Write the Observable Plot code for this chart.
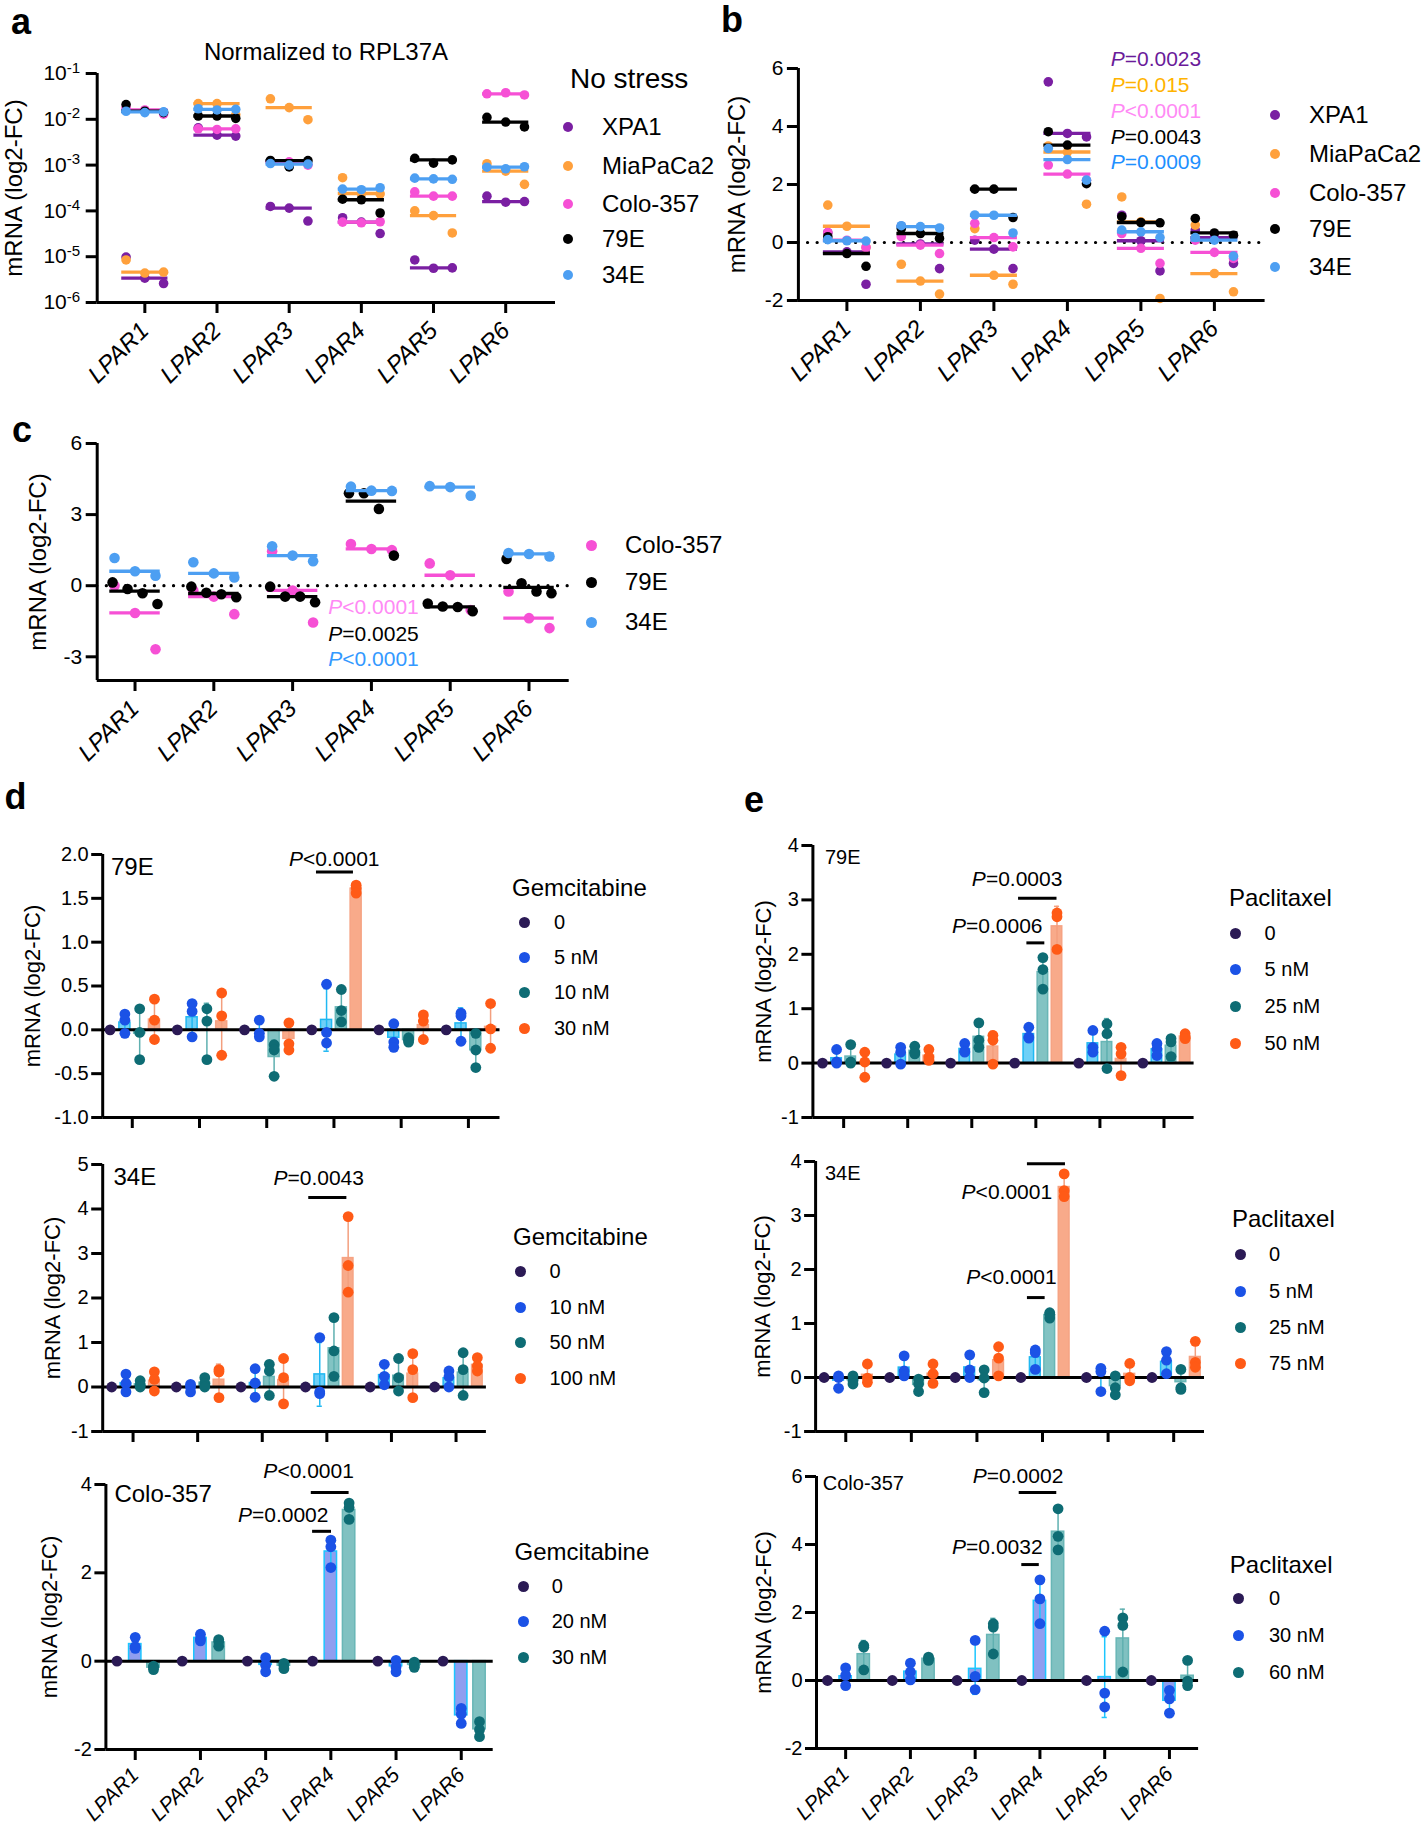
<!DOCTYPE html>
<html><head><meta charset="utf-8">
<script src="https://cdn.jsdelivr.net/npm/d3@7"></script>
<script src="https://cdn.jsdelivr.net/npm/@observablehq/plot@0.6"></script>
<style>
html,body{margin:0;padding:0;background:#fff;}
#page{position:relative;width:1421px;height:1830px;overflow:hidden;font-family:'Liberation Sans',Arial,Helvetica,sans-serif;color:#000;}
.t{position:absolute;white-space:nowrap;line-height:1;}
.dot{position:absolute;border-radius:50%;}
.plot{position:absolute;}
.plot svg{overflow:visible;}
</style></head><body><div id="page"></div>
<script>
// ---------------- DATA ----------------
const genes = ["LPAR1", "LPAR2", "LPAR3", "LPAR4", "LPAR5", "LPAR6"];
const geneIdx = [0, 1, 2, 3, 4, 5];

// Panel a: no stress, normalized to RPL37A (3 replicates per gene)
const aLines = ["XPA1", "MiaPaCa2", "Colo-357", "79E", "34E"];
const aXPA1 = [[9.8e-6, 3.4e-6, 2.6e-6], [6.5e-3, 4.5e-3, 4.3e-3], [1.25e-4, 1.15e-4, 6e-5], [7.1e-5, 5.7e-5, 3.2e-5], [8.5e-6, 5.6e-6, 5.7e-6], [2.1e-4, 1.55e-4, 1.6e-4]];
const aMiaPaCa2 = [[8.5e-6, 4.4e-6, 4.6e-6], [0.022, 0.022, 0.0125], [0.028, 0.018, 0.0098], [5.3e-4, 2.4e-4, 2.35e-4], [1.0e-4, 7.9e-5, 3.3e-5], [1.07e-3, 7.4e-4, 3.8e-4]];
const aColo357 = [[0.018, 0.016, 0.013], [0.0062, 0.006, 0.0062], [0.0012, 0.00118, 0.001], [5.7e-5, 5.5e-5, 5.8e-5], [2.6e-4, 2.1e-4, 2.1e-4], [0.036, 0.038, 0.034]];
const a79E = [[0.021, 0.015, 0.014], [0.0118, 0.0118, 0.0105], [0.00126, 0.00091, 0.00125], [1.8e-4, 1.75e-4, 9e-5], [1.4e-3, 1.1e-3, 1.3e-3], [0.011, 0.0087, 0.0068]];
const a34E = [[0.015, 0.014, 0.0145], [0.017, 0.016, 0.0165], [0.00108, 0.001, 0.00105], [3.0e-4, 2.9e-4, 3.2e-4], [5.2e-4, 5e-4, 4.9e-4], [9e-4, 8.3e-4, 9.2e-4]];
const aTicks = [1e-6, 1e-5, 1e-4, 1e-3, 1e-2, 1e-1];

// Panel b: log2-FC, 5 cell lines
const bXPA1 = [[0.34, -0.32, -1.44], [0.56, -0.05, -0.9], [0.08, -0.23, -0.9], [5.54, 3.76, 3.64], [0.94, 0.06, -0.98], [0.43, 0.17, -0.72]];
const bMiaPaCa2 = [[1.29, 0.56, -0.17], [-0.75, -1.33, -1.78], [0.48, -1.13, -1.44], [3.33, 3.12, 1.32], [1.57, 0.71, -1.93], [0.6, -1.07, -1.7]];
const bColo357 = [[0.34, 0.08, -0.17], [0.2, -0.09, -0.38], [0.66, 0.17, -0.15], [2.67, 2.36, 2.15], [0.31, -0.2, -0.72], [0.08, -0.34, -0.55]];
const b79E = [[0.2, -0.38, -0.82], [0.48, 0.31, 0.14], [1.84, 1.84, 0.86], [3.82, 3.36, 2.03], [0.89, 0.69, 0.68], [0.83, 0.33, 0.25]];
const b34E = [[0.1, 0.06, 0.05], [0.58, 0.55, 0.5], [0.95, 0.94, 0.33], [3.24, 2.86, 2.15], [0.43, 0.37, 0.17], [0.17, 0.08, -0.47]];
const bTicks = [-2, 0, 2, 4, 6];
const bPValues = ["=0.0023", "=0.015", "<0.0001", "=0.0043", "=0.0009"];

// Panel c: log2-FC, 3 cell lines
const cLines = ["Colo-357", "79E", "34E"];
const cColo357 = [[0.0, -1.15, -2.68], [-0.2, -0.46, -1.2], [1.45, -0.2, -1.55], [1.76, 1.55, 1.5], [0.94, 0.44, -1.03], [-0.24, -1.37, -1.79]];
const c79E = [[0.14, -0.14, -0.32, -0.77], [-0.04, -0.3, -0.36, -0.49], [-0.04, -0.46, -0.46, -0.7], [3.9, 3.9, 3.24, 1.27], [-0.75, -0.88, -0.9, -1.08], [1.13, 0.1, -0.24, -0.32]];
const c34E = [[1.17, 0.61, 0.42], [0.99, 0.52, 0.35], [1.66, 1.27, 1.03], [4.18, 4.01, 4.0], [4.2, 4.16, 3.8], [1.38, 1.34, 1.23]];
const cTicks = [-3, 0, 3, 6];
const cPValues = ["<0.0001", "=0.0025", "<0.0001"];

// untreated control (normalized to 0)
const untreated = [0, 0, 0, 0, 0, 0];

// Panel d: Gemcitabine
const d79Doses = ["0", "5 nM", "10 nM", "30 nM"];
const d79_5 = [[0.18, 0.11, -0.04], [0.3, 0.21, -0.08], [0.11, -0.04, -0.08], [0.52, -0.03, -0.15], [0.07, -0.14, -0.2], [0.19, 0.16, -0.13]];
const d79_10 = [[0.24, -0.03, -0.34], [0.24, 0.1, -0.34], [-0.17, -0.23, -0.53], [0.46, 0.22, 0.09], [-0.09, -0.12, -0.14], [-0.04, -0.23, -0.43]];
const d79_30 = [[0.35, 0.11, -0.11], [0.42, 0.16, -0.29], [0.08, -0.16, -0.23], [1.65, 1.62, 1.56], [0.17, 0.1, -0.11], [0.3, 0.01, -0.21]];
const d34Doses = ["0", "10 nM", "50 nM", "100 nM"];
const d34_10 = [[0.29, 0.08, -0.11], [0.06, 0, -0.11], [0.41, 0.09, -0.23], [1.11, -0.11, -0.15], [0.51, 0.24, 0.05], [0.36, 0.23, 0]];
const d34_50 = [[0.14, 0.04, 0], [0.21, 0.08, 0], [0.51, 0.36, -0.19], [1.56, 0.81, 0.24], [0.64, 0.21, -0.09], [0.77, 0.39, -0.19]];
const d34_100 = [[0.34, 0.17, -0.09], [0.39, 0.34, -0.24], [0.64, 0.21, -0.38], [3.83, 2.73, 2.13], [0.75, 0.39, -0.24], [0.66, 0.47, 0.36]];
const dColoDoses = ["0", "20 nM", "30 nM"];
const dColo_20 = [[0.54, 0.33, 0.29], [0.61, 0.51, 0.46], [0.08, -0.09, -0.24], [2.74, 2.59, 2.12], [0.02, -0.13, -0.24], [-1.07, -1.2, -1.41]];
const dColo_30 = [[-0.11, -0.14, -0.19], [0.49, 0.44, 0.34], [-0.05, -0.09, -0.17], [3.58, 3.48, 3.21], [-0.02, -0.09, -0.14], [-1.37, -1.55, -1.71]];

// Panel e: Paclitaxel
const e79Doses = ["0", "5 nM", "25 nM", "50 nM"];
const e79_5 = [[0.25, 0.02, 0], [0.29, 0.2, -0.02], [0.36, 0.22, 0.2], [0.66, 0.48, 0.46], [0.6, 0.29, 0.2], [0.36, 0.26, 0.14]];
const e79_25 = [[0.34, 0.02, 0], [0.31, 0.2, 0.17], [0.74, 0.42, 0.29], [1.94, 1.72, 1.36], [0.72, 0.54, -0.1], [0.45, 0.39, 0.12]];
const e79_50 = [[0.2, 0.02, -0.26], [0.25, 0.11, 0.05], [0.51, 0.42, -0.02], [2.76, 2.69, 2.09], [0.29, 0.17, -0.23], [0.54, 0.48, 0.45]];
const e34Doses = ["0", "5 nM", "25 nM", "75 nM"];
const e34_5 = [[0.03, 0, -0.2], [0.4, 0.12, 0.03], [0.42, 0.14, 0], [0.51, 0.46, 0.15], [0.17, 0.11, -0.26], [0.48, 0.32, 0.07]];
const e34_25 = [[0.03, -0.06, -0.12], [-0.03, -0.12, -0.26], [0.14, -0.01, -0.28], [1.2, 1.17, 1.1], [0.03, -0.19, -0.32], [0.15, -0.19, -0.22]];
const e34_75 = [[0.25, -0.01, -0.09], [0.25, 0.07, -0.11], [0.57, 0.36, 0.03], [3.77, 3.46, 3.35], [0.26, 0, -0.06], [0.67, 0.28, 0.19]];
const eColoDoses = ["0", "30 nM", "60 nM"];
const eColo_30 = [[0.37, 0.15, -0.15], [0.51, 0.25, 0.02], [1.18, 0.12, -0.27], [2.96, 2.4, 1.67], [1.45, -0.37, -0.78], [-0.29, -0.54, -0.96]];
const eColo_60 = [[1.03, 0.98, 0.31], [0.69, 0.64, 0.59], [1.67, 1.57, 0.78], [5.05, 4.24, 3.84], [1.84, 1.62, 0.25], [0.59, -0.02, -0.15]];

// ---------------- STYLE ----------------
const FONT = "'Liberation Sans', Arial, Helvetica, sans-serif";
const lineColor = {"XPA1": "#7a1fa2", "MiaPaCa2": "#ffa03c", "Colo-357": "#f650d5", "79E": "#000000", "34E": "#4d9ff2"};
const doseDot = ["#2b1a55", "#1b52e6", "#0e6c74", "#ff5a16"];
const barStd = [null, {fill: "#6fd0f7", stroke: "#20b8f2", err: "#20b8f2"}, {fill: "#82c3c3", stroke: "#68b6b6", err: "#5fb0b0"}, {fill: "#f8aa8a", stroke: "#f6a383", err: "#f39f7e"}];
const barColo = [null, {fill: "#8f9ef0", stroke: "#1cc6ff", err: "#1cc6ff"}, {fill: "#80c1c1", stroke: "#68b6b6", err: "#5fb0b0"}];

const page = document.getElementById("page");

function label(txt, x, y, size, o = {}) {
  const el = document.createElement("div");
  el.className = "t";
  el.textContent = txt;
  el.style.left = x + "px";
  el.style.top = y + "px";
  el.style.fontSize = size + "px";
  if (o.bold) el.style.fontWeight = "bold";
  if (o.color) el.style.color = o.color;
  el.style.transform = o.center ? "translate(-50%,-50%)" : "translateY(-50%)";
  page.appendChild(el);
}
function legendDot(x, y, r, color) {
  const el = document.createElement("div");
  el.className = "dot";
  el.style.left = (x - r) + "px"; el.style.top = (y - r) + "px";
  el.style.width = 2 * r + "px"; el.style.height = 2 * r + "px";
  el.style.background = color;
  page.appendChild(el);
}
function legend(title, tx, ty, tsize, names, colors, dx, txx, rows, size, r) {
  if (title) label(title, tx, ty, tsize);
  names.forEach((n, i) => { legendDot(dx, rows[i], r, colors[i]); label(n, txx, rows[i], size); });
}

function finish(svg) {
  svg.querySelectorAll('g[aria-label="x-axis tick label"]').forEach(g => g.setAttribute("font-style", "italic"));
  svg.querySelectorAll('g[aria-label="y-axis tick label"] text').forEach(t => {
    const s = t.textContent;
    if (s.startsWith("10^")) {
      t.textContent = "10";
      const ts = document.createElementNS("http://www.w3.org/2000/svg", "tspan");
      ts.setAttribute("dy", "-0.5em");
      ts.setAttribute("font-size", "72%");
      ts.textContent = s.slice(3);
      t.appendChild(ts);
    }
  });
}
function place(svg, left, top) {
  const w = document.createElement("div");
  w.className = "plot";
  w.style.left = left + "px"; w.style.top = top + "px";
  w.appendChild(svg);
  page.appendChild(w);
  finish(svg);
}

function axes(cfg, f) {
  return [
    Plot.ruleX([cfg.x[0]], {strokeWidth: 3}),
    Plot.ruleY([cfg.y.domain[0]], {strokeWidth: 3}),
    Plot.axisY({ticks: cfg.y.ticks, tickFormat: cfg.y.format, tickSize: f.ytick, tickPadding: f.ypad, strokeWidth: 3, fontSize: f.yfont, label: null}),
    Plot.axisX({ticks: geneIdx, tickFormat: cfg.xLabels ? (i => genes[i]) : (() => ""), tickSize: f.xtick, tickPadding: f.xpad, tickRotate: cfg.xLabels ? -45 : 0, strokeWidth: 3, fontSize: f.xfont, label: null}),
    Plot.text(["mRNA (log2-FC)"], {text: d => d, frameAnchor: "left", textAnchor: "middle", rotate: -90, dx: cfg.labelDx, fontSize: f.lfont})
  ];
}
function annotate(cfg, size) {
  const m = [];
  if (cfg.ann) {
    m.push(Plot.text(cfg.ann, {x: "x", y: "y", text: () => "P", textAnchor: "end", fontStyle: "italic", fill: d => d.color || "#000", fontSize: size}));
    m.push(Plot.text(cfg.ann, {x: "x", y: "y", text: "rest", textAnchor: "start", fill: d => d.color || "#000", fontSize: size}));
  }
  if (cfg.brackets) m.push(Plot.ruleY(cfg.brackets, {x1: "x1", x2: "x2", y: "y", strokeWidth: 3}));
  return m;
}
function render(cfg, marks) {
  const svg = Plot.plot({
    width: cfg.w, height: cfg.h,
    marginLeft: cfg.mL, marginRight: cfg.mR, marginTop: cfg.mT, marginBottom: cfg.mB,
    style: {fontFamily: FONT, background: "transparent", overflow: "visible", color: "#000"},
    x: {domain: cfg.x, axis: null, label: null},
    y: {type: cfg.y.type || "linear", domain: cfg.y.domain, axis: null, label: null},
    marks
  });
  place(svg, cfg.left, cfg.top);
}

function scatterPanel(cfg) {
  const marks = [];
  if (cfg.dotted) marks.push(Plot.ruleY([0], {strokeWidth: 3.2, strokeDasharray: "0.1 9.5", strokeLinecap: "round"}));
  cfg.series.forEach((s) => {
    const pts = [], meds = [];
    s.vals.forEach((reps, gi) => {
      const n = reps.length, step = n > 3 ? 0.19 : 0.26;
      reps.forEach((v, ri) => pts.push({x: gi + (ri - (n - 1) / 2) * step, y: v}));
      meds.push({x1: gi - 0.32, x2: gi + 0.32, y: d3.median(reps)});
    });
    marks.push(Plot.ruleY(meds, {x1: "x1", x2: "x2", y: "y", stroke: s.color, strokeWidth: 3.3}));
    marks.push(Plot.dot(pts, {x: "x", y: "y", r: cfg.r, fill: s.color}));
  });
  marks.push(...axes(cfg, {ytick: 11, ypad: cfg.ypad ?? 4, yfont: 21, xtick: 11, xpad: 13, xfont: 24, lfont: 24}));
  marks.push(...annotate(cfg, 21));
  render(cfg, marks);
}

function barPanel(cfg) {
  const n = cfg.series.length;
  const offs = n === 4 ? [-0.33, -0.11, 0.11, 0.33] : [-0.28, 0, 0.28];
  const hw = n === 4 ? 0.082 : 0.095, cap = 0.04;
  const marks = [];
  cfg.series.forEach((s, si) => {
    if (si === 0) return;
    const st = s.vals.map((reps, gi) => {
      const m = d3.mean(reps), sd = d3.deviation(reps), x = gi + offs[si];
      return {x, x1: x - hw, x2: x + hw, m, lo: m - sd, hi: m + sd, c1: x - cap, c2: x + cap};
    });
    const sty = s.style;
    marks.push(Plot.rect(st, {x1: "x1", x2: "x2", y1: 0, y2: "m", fill: sty.fill, stroke: sty.stroke, strokeWidth: 1.5}));
    marks.push(Plot.ruleX(st, {x: "x", y1: "lo", y2: "hi", stroke: sty.err, strokeWidth: 1.5}));
    marks.push(Plot.ruleY(st, {x1: "c1", x2: "c2", y: "lo", stroke: sty.err, strokeWidth: 1.5}));
    marks.push(Plot.ruleY(st, {x1: "c1", x2: "c2", y: "hi", stroke: sty.err, strokeWidth: 1.5}));
  });
  marks.push(...axes(cfg, {ytick: 11, ypad: 3, yfont: 20, xtick: 11, xpad: 11, xfont: 21, lfont: 22}));
  marks.push(Plot.ruleY([0], {strokeWidth: 3}));
  cfg.series.forEach((s, si) => {
    const pts = [];
    s.vals.forEach((reps, gi) => [].concat(reps).forEach(v => pts.push({x: gi + offs[si], y: v})));
    marks.push(Plot.dot(pts, {x: "x", y: "y", r: 5.4, fill: doseDot[si]}));
  });
  marks.push(...annotate(cfg, 21));
  render(cfg, marks);
}

// ---------------- PANELS ----------------
// a
scatterPanel({
  left: 0, top: 40, w: 565, h: 360, mL: 96.7, mR: 10, mT: 33, mB: 98,
  x: [-0.66, 5.69], xLabels: true, labelDx: -83, r: 4.8, ypad: 6,
  y: {type: "log", domain: [1e-6, 1e-1], ticks: aTicks, format: d => "10^" + Math.round(Math.log10(d))},
  series: [aXPA1, aMiaPaCa2, aColo357, a79E, a34E].map((vals, i) => ({vals, color: lineColor[aLines[i]]}))
});
label("Normalized to RPL37A", 326, 52, 24, {center: true});
legend("No stress", 570, 79, 28, aLines, aLines.map(n => lineColor[n]), 568, 602, [127, 166, 204, 239, 275], 24, 5);
label("a", 11, 22, 36, {bold: true});

// b
const bColors = ["#6a1b9a", "#ffb300", "#ff8af5", "#000000", "#1e90ff"];
scatterPanel({
  left: 712, top: 40, w: 565, h: 360, mL: 85.9, mR: 12.4, mT: 28, mB: 100,
  x: [-0.66, 5.69], xLabels: true, labelDx: -61, r: 4.8, dotted: true,
  y: {domain: [-2, 6], ticks: bTicks, format: d => String(d)},
  series: [bXPA1, bMiaPaCa2, bColo357, b79E, b34E].map((vals, i) => ({vals, color: lineColor[aLines[i]]})),
  ann: bPValues.map((rest, i) => ({x: 3.78, y: [6.31, 5.41, 4.52, 3.62, 2.76][i], rest, color: bColors[i]}))
});
legend(null, 0, 0, 0, aLines, aLines.map(n => lineColor[n]), 1275, 1309, [115, 154, 193, 229, 267], 24, 5);
label("b", 721, 20, 36, {bold: true});

// c
const cColors = ["#ff8af5", "#000000", "#3399ff"];
scatterPanel({
  left: 0, top: 420, w: 580, h: 355, mL: 96.7, mR: 11.3, mT: 23, mB: 95,
  x: [-0.48, 5.51], xLabels: true, labelDx: -59, r: 5.3, dotted: true,
  y: {domain: [-4, 6], ticks: cTicks, format: d => String(d)},
  series: [cColo357, c79E, c34E].map((vals, i) => ({vals, color: lineColor[cLines[i]]})),
  ann: cPValues.map((rest, i) => ({x: 2.63, y: [-0.93, -2.03, -3.12][i], rest, color: cColors[i]}))
});
legend(null, 0, 0, 0, cLines, cLines.map(n => lineColor[n]), 591, 625, [545, 582, 622], 24, 5.5);
label("c", 12, 430, 36, {bold: true});

// d
const fmt1 = d => d.toFixed(1), fmt0 = d => String(d);
const ctrl = untreated.map(v => [v]);
barPanel({
  left: 0, top: 830, w: 505, h: 300, mL: 102.2, mR: 5.5, mT: 24, mB: 13,
  x: [-0.44, 5.47], xLabels: false, labelDx: -70,
  y: {domain: [-1, 2], ticks: [-1, -0.5, 0, 0.5, 1, 1.5, 2], format: fmt1},
  series: [ctrl, d79_5, d79_10, d79_30].map((vals, i) => ({vals, style: barStd[i]})),
  ann: [{x: 2.54, y: 1.94, rest: "<0.0001"}], brackets: [{x1: 2.74, x2: 3.29, y: 1.80}]
});
label("79E", 111, 867, 24);
legend("Gemcitabine", 512, 888, 24, d79Doses, doseDot, 524.5, 554, [922, 957, 992, 1028], 20, 5.5);
barPanel({
  left: 0, top: 1140, w: 492, h: 300, mL: 102.2, mR: 6.1, mT: 24, mB: 9,
  x: [-0.47, 5.47], xLabels: false, labelDx: -50,
  y: {domain: [-1, 5], ticks: [-1, 0, 1, 2, 3, 4, 5], format: fmt0},
  series: [ctrl, d34_10, d34_50, d34_100].map((vals, i) => ({vals, style: barStd[i]})),
  ann: [{x: 2.39, y: 4.68, rest: "=0.0043"}], brackets: [{x1: 2.72, x2: 3.31, y: 4.26}]
});
label("34E", 113.5, 1177, 24);
legend("Gemcitabine", 513, 1237, 24, d34Doses, doseDot, 520, 549.5, [1271, 1307, 1342, 1378], 20, 5.5);
barPanel({
  left: 0, top: 1455, w: 500, h: 375, mL: 105.4, mR: 7.3, mT: 29, mB: 81,
  x: [-0.45, 5.49], xLabels: true, labelDx: -56,
  y: {domain: [-2, 4], ticks: [-2, 0, 2, 4], format: fmt0},
  series: [ctrl, dColo_20, dColo_30].map((vals, i) => ({vals, style: barColo[i]})),
  ann: [{x: 2.18, y: 4.30, rest: "<0.0001"}, {x: 1.79, y: 3.30, rest: "=0.0002"}],
  brackets: [{x1: 2.70, x2: 3.28, y: 3.82}, {x1: 2.72, x2: 3.01, y: 2.94}]
});
label("Colo-357", 114.4, 1494, 24);
legend("Gemcitabine", 514.5, 1552, 24, dColoDoses, [doseDot[0], doseDot[1], doseDot[2]], 523.6, 551.7, [1586, 1621, 1657], 20, 5.5);
label("d", 4.5, 797, 36, {bold: true});

// e
barPanel({
  left: 712, top: 825, w: 487, h: 305, mL: 100.4, mR: 5.4, mT: 20, mB: 13,
  x: [-0.48, 5.47], xLabels: false, labelDx: -49,
  y: {domain: [-1, 4], ticks: [-1, 0, 1, 2, 3, 4], format: fmt0},
  series: [ctrl, e79_5, e79_25, e79_50].map((vals, i) => ({vals, style: barStd[i]})),
  ann: [{x: 2.22, y: 3.38, rest: "=0.0003"}, {x: 1.91, y: 2.52, rest: "=0.0006"}],
  brackets: [{x1: 2.73, x2: 3.33, y: 3.03}, {x1: 2.86, x2: 3.14, y: 2.21}]
});
label("79E", 825, 857, 20);
legend("Paclitaxel", 1229, 898, 24, e79Doses, doseDot, 1235.6, 1264.6, [933, 969, 1006, 1043], 20, 5.5);
barPanel({
  left: 712, top: 1140, w: 497, h: 300, mL: 103.1, mR: 5, mT: 21, mB: 9,
  x: [-0.46, 5.47], xLabels: false, labelDx: -52.5,
  y: {domain: [-1, 4], ticks: [-1, 0, 1, 2, 3, 4], format: fmt0},
  series: [ctrl, e34_5, e34_25, e34_75].map((vals, i) => ({vals, style: barStd[i]})),
  ann: [{x: 1.98, y: 3.43, rest: "<0.0001"}, {x: 2.05, y: 1.85, rest: "<0.0001"}],
  brackets: [{x1: 2.77, x2: 3.35, y: 3.96}, {x1: 2.77, x2: 3.04, y: 1.48}]
});
label("34E", 825, 1173, 20);
legend("Paclitaxel", 1232, 1219, 24, e34Doses, doseDot, 1240.2, 1269, [1254, 1291, 1327, 1363], 20, 5.5);
barPanel({
  left: 712, top: 1455, w: 492, h: 375, mL: 104, mR: 5.9, mT: 21, mB: 82,
  x: [-0.45, 5.45], xLabels: true, labelDx: -53,
  y: {domain: [-2, 6], ticks: [-2, 0, 2, 4, 6], format: fmt0},
  series: [ctrl, eColo_30, eColo_60].map((vals, i) => ({vals, style: barColo[i]})),
  ann: [{x: 2.18, y: 6.0, rest: "=0.0002"}, {x: 1.86, y: 3.91, rest: "=0.0032"}],
  brackets: [{x1: 2.68, x2: 3.26, y: 5.53}, {x1: 2.72, x2: 2.99, y: 3.41}]
});
label("Colo-357", 822.8, 1483, 20);
legend("Paclitaxel", 1229.8, 1565, 24, eColoDoses, [doseDot[0], doseDot[1], doseDot[2]], 1238.8, 1269, [1598, 1635, 1672], 20, 5.5);
label("e", 744, 800, 36, {bold: true});
</script></body></html>
